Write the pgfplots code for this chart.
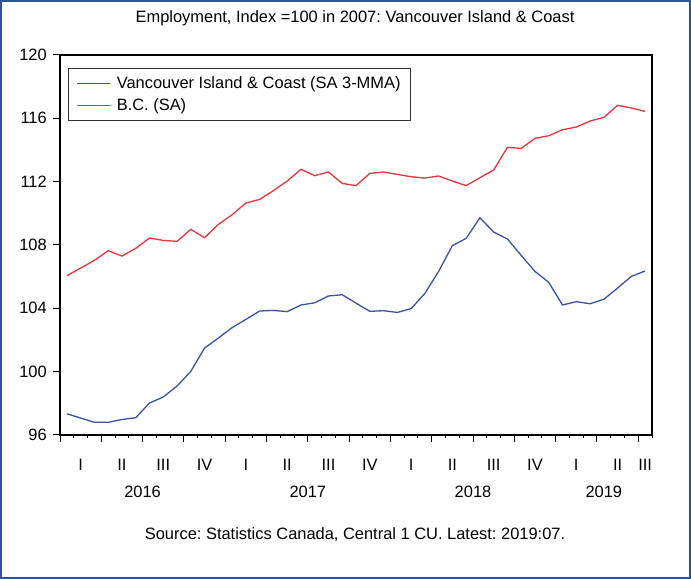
\documentclass[border=0pt]{standalone}
\usepackage{pgfplots}
\pgfplotsset{compat=1.18}
\usepackage{fontspec}
\setmainfont{Liberation Sans}
\frenchspacing
\definecolor{vicblue}{RGB}{56,82,166}
\definecolor{bcred}{RGB}{240,50,60}
\definecolor{framecol}{RGB}{47,84,150}
\pgfplotstableread{
i vic bc
0 97.34 106.06
1 97.07 106.54
2 96.80 107.03
3 96.80 107.64
4 96.98 107.30
5 97.09 107.79
6 98.02 108.44
7 98.40 108.29
8 99.09 108.23
9 100.02 108.99
10 101.49 108.46
11 102.12 109.30
12 102.78 109.91
13 103.30 110.65
14 103.83 110.88
15 103.87 111.43
16 103.79 112.04
17 104.21 112.78
18 104.35 112.38
19 104.78 112.61
20 104.86 111.89
21 104.33 111.75
22 103.81 112.52
23 103.85 112.61
24 103.74 112.46
25 103.98 112.31
26 104.94 112.23
27 106.33 112.36
28 107.96 112.04
29 108.42 111.75
30 109.72 112.25
31 108.82 112.74
32 108.38 114.17
33 107.34 114.10
34 106.33 114.74
35 105.64 114.90
36 104.21 115.28
37 104.42 115.45
38 104.29 115.83
39 104.57 116.06
40 105.28 116.82
41 106.02 116.65
42 106.36 116.44
}\datatable
\pgfplotstableread{
pos lab
1 I
4 II
7 III
10 IV
13 I
16 II
19 III
22 IV
25 I
28 II
31 III
34 IV
37 I
40 II
42 III
}\quarters
\newcommand{\lf}{\fontsize{16.5}{19.5}\selectfont}
\begin{document}
\begin{tikzpicture}
\useasboundingbox (0,0) rectangle (691bp,579bp);
\draw[framecol, line width=2bp] (1bp,1bp) rectangle (690bp,578bp);
\node[font=\lf] at (355bp,561bp) {Employment, Index =100 in 2007: Vancouver Island \& Coast};
\node[font=\lf] at (355bp,44bp) {Source: Statistics Canada, Central 1 CU. Latest: 2019:07.};
\begin{axis}[
  at={(60bp,144bp)}, anchor=south west,
  scale only axis, width=592bp, height=380bp,
  xmin=-0.5, xmax=42.5, ymin=96, ymax=120,
  clip=false,
  axis line style={black, line width=1.2bp},
  tick style={black, line width=1bp},
  tick align=outside,
  ytick={96,100,...,120},
  ytick pos=left,
  xtick pos=bottom,
  major tick length=6.7bp,
  minor tick length=3.3bp,
  xtick={-0.5,2.5,...,41.5},
  xticklabels={},
  minor xtick={-0.5,0.5,...,42.5},
  tick label style={font=\lf},
  yticklabel style={xshift=-3bp},
  /pgf/number format/assume math mode=true,
  legend style={at={(rel axis cs:0.0135,0.966)}, anchor=north west,
    draw=black!80, line width=1bp, font=\lf,
    inner xsep=8bp, inner ysep=6.5bp, row sep=4.5bp,
    /tikz/every odd column/.append style={column sep=4bp}},
  legend cell align=left,
  legend image code/.code={\draw[#1, line width=1.3bp] (0bp,0bp) -- (33bp,0bp);},
]
\addplot[vicblue, line width=1.3bp] table[x=i, y=vic] {\datatable};
\addlegendentry{Vancouver Island \& Coast (SA 3-MMA)}
\addplot[bcred, line width=1.3bp] table[x=i, y=bc] {\datatable};
\addlegendentry{B.C. (SA)}
\pgfplotsinvokeforeach{0,...,14}{
  \pgfplotstablegetelem{#1}{pos}\of\quarters \edef\qpos{\pgfplotsretval}
  \pgfplotstablegetelem{#1}{lab}\of\quarters \edef\qlab{\pgfplotsretval}
  \edef\temp{\noexpand\node[font=\noexpand\lf] at (axis cs:\qpos,96) [yshift=-30bp] {\qlab};}
  \temp
}
\node[font=\lf] at (axis cs:5.5,96) [yshift=-57bp] {2016};
\node[font=\lf] at (axis cs:17.5,96) [yshift=-57bp] {2017};
\node[font=\lf] at (axis cs:29.5,96) [yshift=-57bp] {2018};
\node[font=\lf] at (axis cs:39,96) [yshift=-57bp] {2019};
\end{axis}
\end{tikzpicture}
\end{document}
